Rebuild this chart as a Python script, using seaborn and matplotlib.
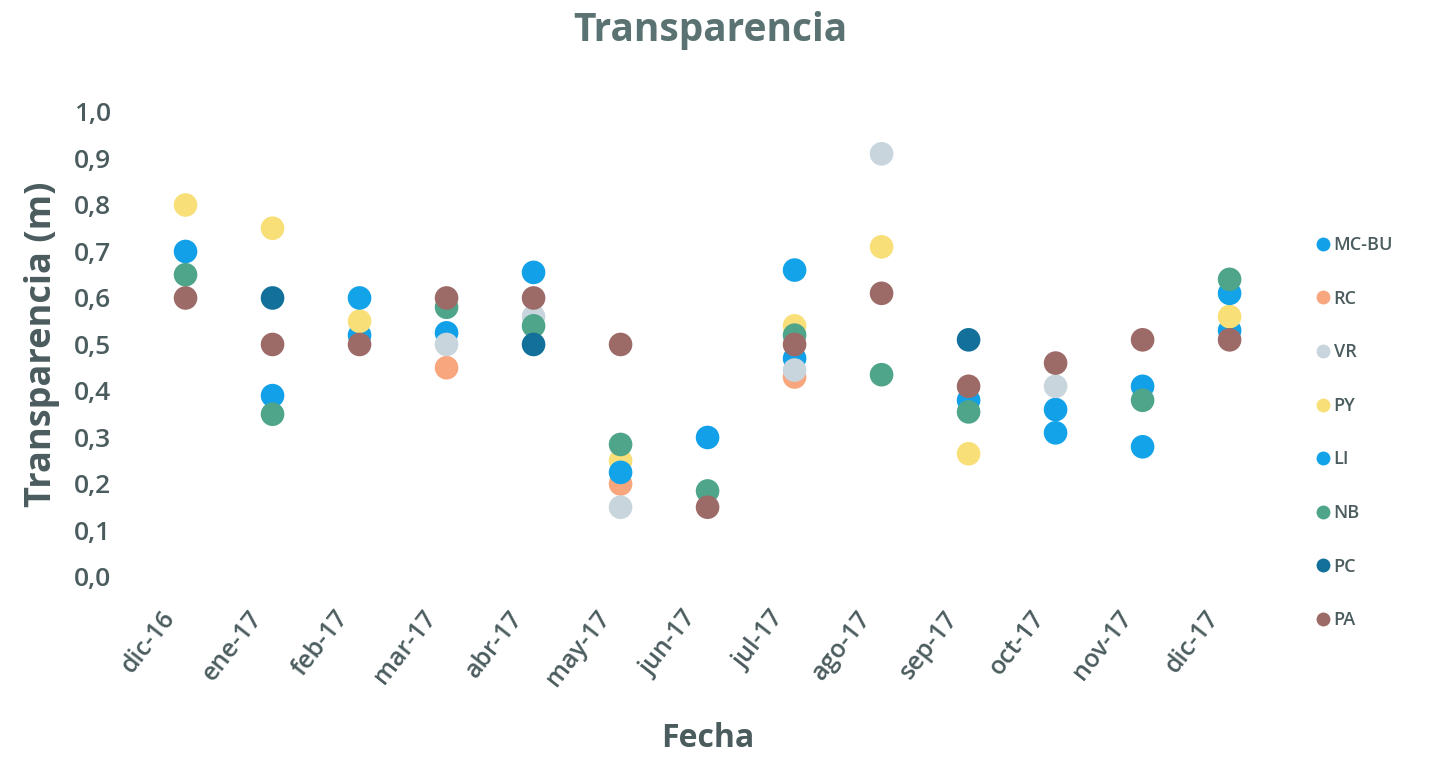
import numpy as np
import pandas as pd
import matplotlib
matplotlib.use("Agg")
import matplotlib.pyplot as plt
import matplotlib.transforms as mtransforms
from matplotlib.lines import Line2D
import seaborn as sns

# --- data ---
meses = ["dic-16", "ene-17", "feb-17", "mar-17", "abr-17", "may-17", "jun-17",
         "jul-17", "ago-17", "sep-17", "oct-17", "nov-17", "dic-17"]
nan = np.nan
mc_bu = [0.70, 0.39, 0.52, 0.525, 0.655, nan, 0.30, 0.47, nan, 0.38, 0.36, 0.41, 0.53]
rc    = [nan, nan, nan, 0.45, nan, 0.20, nan, 0.43, nan, nan, nan, nan, nan]
vr    = [nan, nan, nan, 0.50, 0.56, 0.15, nan, 0.445, 0.91, nan, 0.41, nan, nan]
py    = [0.80, 0.75, 0.55, nan, nan, 0.25, nan, 0.54, 0.71, 0.265, nan, nan, 0.56]
li    = [nan, nan, 0.60, nan, nan, 0.225, nan, 0.66, nan, nan, 0.31, 0.28, 0.61]
nb    = [0.65, 0.35, nan, 0.58, 0.54, 0.285, 0.185, 0.52, 0.435, 0.355, nan, 0.38, 0.64]
pc    = [nan, 0.60, nan, nan, 0.50, nan, nan, nan, nan, 0.51, nan, nan, nan]
pa    = [0.60, 0.50, 0.50, 0.60, 0.60, 0.50, 0.15, 0.50, 0.61, 0.41, 0.46, 0.51, 0.51]

sitios = ["MC-BU", "RC", "VR", "PY", "LI", "NB", "PC", "PA"]
colores = ["#12A0E8", "#F8A67E", "#C8D5DC", "#F8DF78", "#12A3E8", "#4FA58A", "#12709A", "#9C6B68"]

series = dict(zip(sitios, [mc_bu, rc, vr, py, li, nb, pc, pa]))
df = pd.DataFrame(series, index=meses).reset_index(names="Fecha")
df = df.melt(id_vars="Fecha", var_name="Sitio", value_name="Transparencia").dropna()

texto = "#4B5C5E"
plt.rcParams["font.family"] = ["Open Sans", "DejaVu Sans"]

fig = plt.figure(figsize=(14.29, 7.57), dpi=100)
ax = fig.add_axes([0.0994, 0.2378, 0.7915, 0.6143])

sns.stripplot(data=df, x="Fecha", y="Transparencia", hue="Sitio", order=meses,
              hue_order=sitios, palette=dict(zip(sitios, colores)), jitter=False,
              dodge=False, size=17, linewidth=0, ax=ax, legend=False, clip_on=False)

ax.set_xlim(-0.5, len(meses) - 0.5)
ax.set_ylim(0, 1.0)
ax.set_yticks(np.arange(0, 1.01, 0.1))
ax.set_yticklabels([f"{v:.1f}".replace(".", ",") for v in np.arange(0, 1.01, 0.1)])
for s in ax.spines.values():
    s.set_visible(False)
ax.tick_params(length=0, labelcolor=texto)
ax.tick_params(axis="y", labelsize=19, pad=22)
ax.tick_params(axis="x", labelsize=18, pad=21)
plt.setp(ax.get_xticklabels(), rotation=52, ha="right", va="top", rotation_mode="anchor")
shift = mtransforms.ScaledTranslation(-0.25, 0, fig.dpi_scale_trans)
for t in ax.get_xticklabels():
    t.set_transform(t.get_transform() + shift)
for t in ax.get_xticklabels() + ax.get_yticklabels():
    t.set_fontweight("semibold")

ax.set_xlabel("Fecha", fontsize=23, fontweight="bold", color=texto, labelpad=22)
ax.set_ylabel("Transparencia (m)", fontsize=26, fontweight="bold", color=texto, labelpad=10)
fig.suptitle("Transparencia", x=0.497, y=0.96, va="center", fontsize=28,
             fontweight="bold", color="#5A7372")

handles = [Line2D([], [], marker="o", linestyle="", markersize=10, markerfacecolor=c,
                  markeredgewidth=0) for c in colores]
leg = fig.legend(handles, sitios, loc="upper left", bbox_to_anchor=(0.913, 0.70),
                 frameon=False, fontsize=13, labelspacing=1.97, handletextpad=0.1,
                 handlelength=1.0, borderpad=0)
for t in leg.get_texts():
    t.set_color(texto)
    t.set_fontweight("semibold")

fig.savefig("out.png", dpi=100, facecolor="white")
